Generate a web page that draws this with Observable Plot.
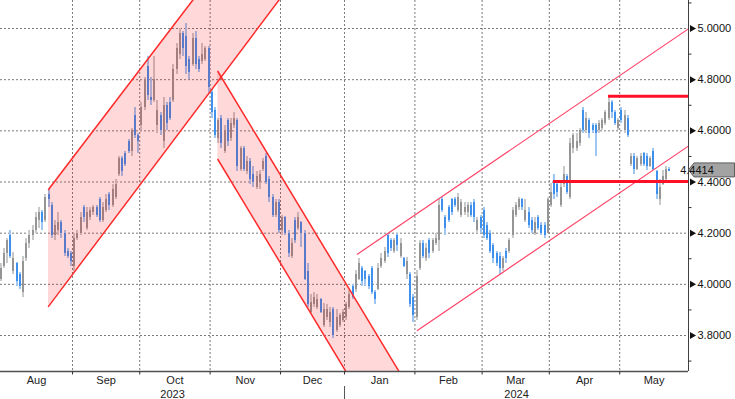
<!DOCTYPE html>
<html><head><meta charset="utf-8">
<script src="https://cdn.jsdelivr.net/npm/d3@7"></script>
<script src="https://cdn.jsdelivr.net/npm/@observablehq/plot@0.6"></script>
<style>html,body{margin:0;padding:0;background:#fff;overflow:hidden}</style>
</head><body><div id="chart"></div>
<script>
// Daily candles [open, high, low, close], one array per month (trading days)
const aug = [[4.02,4.08,4.01,4.06],[4.07,4.14,4.06,4.12],[4.12,4.18,4.08,4.17],[4.19,4.21,4.10,4.11],[4.05,4.125,4.04,4.10],[4.08,4.085,3.99,4.01],[4.04,4.045,3.98,3.99],[3.97,4.11,3.95,4.09],[4.10,4.18,4.09,4.16],[4.16,4.21,4.14,4.19],[4.19,4.23,4.17,4.21],[4.21,4.28,4.20,4.26],[4.25,4.30,4.22,4.28],[4.28,4.29,4.21,4.24],[4.25,4.35,4.24,4.34],[4.35,4.37,4.30,4.33],[4.31,4.32,4.18,4.19],[4.19,4.25,4.17,4.23],[4.21,4.28,4.19,4.24],[4.24,4.25,4.18,4.20],[4.20,4.21,4.11,4.12],[4.13,4.14,4.10,4.11],[4.12,4.13,4.07,4.09]];
const sep = [[4.07,4.20,4.05,4.18],[4.18,4.21,4.17,4.20],[4.20,4.28,4.19,4.26],[4.30,4.31,4.24,4.26],[4.22,4.30,4.21,4.28],[4.26,4.30,4.25,4.29],[4.28,4.31,4.27,4.30],[4.30,4.31,4.26,4.27],[4.33,4.34,4.24,4.25],[4.25,4.32,4.24,4.30],[4.29,4.35,4.28,4.33],[4.35,4.36,4.29,4.31],[4.31,4.39,4.30,4.37],[4.34,4.41,4.33,4.39],[4.43,4.50,4.42,4.49],[4.49,4.50,4.42,4.44],[4.51,4.52,4.46,4.47],[4.56,4.565,4.51,4.52],[4.52,4.61,4.50,4.60],[4.66,4.69,4.57,4.58],[4.58,4.59,4.51,4.56]];
const oct = [[4.62,4.71,4.60,4.69],[4.69,4.81,4.68,4.80],[4.85,4.89,4.72,4.74],[4.73,4.81,4.70,4.72],[4.72,4.89,4.71,4.80],[4.62,4.72,4.59,4.68],[4.66,4.67,4.58,4.60],[4.56,4.73,4.53,4.70],[4.70,4.71,4.60,4.63],[4.71,4.73,4.64,4.65],[4.72,4.86,4.71,4.84],[4.84,4.94,4.82,4.92],[4.90,5.00,4.88,4.98],[4.98,4.99,4.89,4.92],[4.97,5.02,4.82,4.85],[4.88,4.89,4.80,4.83],[4.86,4.98,4.85,4.96],[4.96,4.99,4.84,4.86],[4.88,4.89,4.83,4.84],[4.87,4.94,4.86,4.90],[4.88,4.93,4.87,4.92],[4.92,4.93,4.745,4.77]];
const nov = [[4.75,4.76,4.65,4.67],[4.68,4.69,4.57,4.58],[4.57,4.65,4.55,4.64],[4.65,4.66,4.53,4.55],[4.52,4.62,4.51,4.60],[4.64,4.65,4.54,4.56],[4.57,4.65,4.56,4.63],[4.62,4.67,4.61,4.65],[4.64,4.65,4.44,4.46],[4.45,4.54,4.44,4.53],[4.53,4.54,4.44,4.45],[4.44,4.50,4.43,4.48],[4.48,4.49,4.39,4.41],[4.43,4.46,4.38,4.40],[4.38,4.44,4.37,4.42],[4.40,4.445,4.37,4.43],[4.45,4.49,4.44,4.48],[4.50,4.51,4.39,4.40],[4.41,4.42,4.32,4.34],[4.34,4.35,4.26,4.27],[4.27,4.33,4.26,4.32],[4.32,4.33,4.20,4.21]];
const dec = [[4.21,4.27,4.19,4.26],[4.26,4.265,4.19,4.20],[4.20,4.21,4.105,4.12],[4.11,4.18,4.10,4.16],[4.25,4.26,4.16,4.17],[4.22,4.28,4.21,4.26],[4.24,4.245,4.145,4.20],[4.20,4.21,4.015,4.02],[4.05,4.08,3.91,3.92],[3.89,3.96,3.885,3.93],[3.92,3.97,3.91,3.95],[3.91,3.96,3.90,3.94],[3.94,3.945,3.885,3.89],[3.84,3.925,3.83,3.90],[3.87,3.92,3.86,3.90],[3.85,3.91,3.83,3.89],[3.90,3.91,3.79,3.80],[3.82,3.90,3.81,3.87],[3.84,3.885,3.83,3.88],[3.86,3.90,3.85,3.89]];
const jan = [[3.87,3.93,3.86,3.92],[3.91,3.975,3.90,3.96],[3.99,4.00,3.94,3.95],[3.98,4.055,3.97,4.04],[4.02,4.10,4.015,4.08],[4.06,4.07,3.99,4.01],[4.05,4.055,3.99,4.02],[4.03,4.04,3.98,3.99],[4.06,4.07,3.96,3.97],[3.97,3.975,3.92,3.94],[3.98,4.08,3.975,4.06],[4.07,4.12,4.06,4.10],[4.09,4.145,4.08,4.13],[4.19,4.20,4.105,4.12],[4.17,4.18,4.13,4.14],[4.13,4.18,4.12,4.17],[4.19,4.20,4.13,4.15],[4.11,4.18,4.10,4.16],[4.10,4.105,4.065,4.07],[4.04,4.105,4.02,4.09],[4.04,4.045,3.91,3.92],[3.95,3.96,3.85,3.88]];
const feb = [[3.87,4.055,3.86,4.03],[4.06,4.17,4.055,4.16],[4.16,4.17,4.10,4.11],[4.10,4.16,4.09,4.14],[4.17,4.18,4.10,4.12],[4.13,4.18,4.12,4.17],[4.16,4.20,4.15,4.18],[4.17,4.33,4.13,4.31],[4.33,4.34,4.28,4.29],[4.26,4.27,4.19,4.22],[4.30,4.31,4.24,4.25],[4.33,4.335,4.27,4.28],[4.33,4.34,4.30,4.31],[4.29,4.355,4.28,4.34],[4.27,4.33,4.26,4.32],[4.28,4.32,4.27,4.30],[4.28,4.32,4.26,4.31],[4.31,4.32,4.26,4.27],[4.32,4.33,4.24,4.26],[4.21,4.26,4.20,4.25],[4.26,4.27,4.20,4.22]];
const mar = [[4.29,4.30,4.18,4.19],[4.23,4.24,4.17,4.18],[4.20,4.21,4.12,4.13],[4.15,4.16,4.08,4.10],[4.12,4.13,4.07,4.08],[4.11,4.125,4.04,4.06],[4.06,4.11,4.05,4.10],[4.13,4.14,4.08,4.10],[4.13,4.18,4.12,4.17],[4.19,4.30,4.18,4.29],[4.27,4.32,4.26,4.31],[4.30,4.34,4.29,4.33],[4.33,4.335,4.29,4.30],[4.25,4.33,4.24,4.29],[4.28,4.30,4.22,4.23],[4.25,4.26,4.20,4.21],[4.20,4.26,4.19,4.24],[4.26,4.27,4.21,4.22],[4.23,4.24,4.19,4.20],[4.23,4.24,4.18,4.19],[4.20,4.34,4.20,4.33]];
const apr = [[4.31,4.395,4.30,4.36],[4.40,4.43,4.33,4.35],[4.39,4.405,4.34,4.36],[4.31,4.395,4.30,4.38],[4.39,4.46,4.38,4.43],[4.42,4.43,4.35,4.36],[4.34,4.57,4.33,4.55],[4.53,4.59,4.51,4.58],[4.53,4.59,4.52,4.56],[4.55,4.61,4.54,4.60],[4.68,4.69,4.59,4.60],[4.60,4.67,4.59,4.65],[4.64,4.65,4.57,4.59],[4.62,4.63,4.59,4.60],[4.62,4.63,4.50,4.59],[4.60,4.64,4.59,4.63],[4.61,4.65,4.60,4.64],[4.63,4.68,4.62,4.67],[4.65,4.735,4.64,4.71],[4.71,4.72,4.65,4.67],[4.67,4.68,4.62,4.63],[4.61,4.65,4.60,4.64]];
const may = [[4.68,4.69,4.63,4.64],[4.60,4.68,4.59,4.66],[4.65,4.66,4.575,4.58],[4.47,4.51,4.46,4.50],[4.50,4.51,4.43,4.45],[4.45,4.50,4.445,4.49],[4.47,4.51,4.46,4.50],[4.51,4.515,4.46,4.47],[4.50,4.51,4.445,4.46],[4.46,4.50,4.455,4.49],[4.52,4.53,4.445,4.45],[4.44,4.445,4.33,4.35],[4.33,4.41,4.31,4.38],[4.39,4.445,4.385,4.42],[4.41,4.46,4.405,4.45],[4.45,4.455,4.44,4.4414]];

const monthNames = ["Aug","Sep","Oct","Nov","Dec","Jan","Feb","Mar","Apr","May"];
const monthData = [aug, sep, oct, nov, dec, jan, feb, mar, apr, may];
const years = ["2023","2024"];
const yearFirstMonth = [0, 5];

// Y axis ticks
const majorTicks = [3.8, 4.0, 4.2, 4.4, 4.6, 4.8, 5.0];
const minorTicks = [3.7, 3.9, 4.1, 4.3, 4.5, 4.7, 4.9, 5.1];

// Trend channels: [trading-day index, yield]
const ch1Upper = [{i: 15.0, v: 4.371}, {i: 110, v: 5.930}];
const ch1Lower = [{i: 15.0, v: 3.914}, {i: 110, v: 5.493}];
const ch2Upper = [{i: 67.93, v: 4.832}, {i: 140, v: 3.339}];
const ch2Lower = [{i: 67.93, v: 4.488}, {i: 140, v: 2.995}];
const ch3Upper = [{i: 111.5, v: 4.118}, {i: 215, v: 4.999}];
const ch3Lower = [{i: 130.26, v: 3.8195}, {i: 215, v: 4.5407}];
// Horizontal levels
const levels = [{v: 4.735, from: 190}, {v: 4.402, from: 172.8}];

// ---- build ----
const bars = [];
const monthStart = [];
monthData.forEach(arr => { monthStart.push(bars.length); arr.forEach(([o,h,l,c]) => bars.push({i: bars.length, o, h, l, c})); });
const xMin = -0.01, xMax = 215;
const yMin = 3.6593, yMax = 5.1095;
const bounds = monthStart.slice(1).map(s => s - 0.5);
const edges = [xMin, ...bounds, xMax];
const monthLabels = monthNames.map((m, k) => ({x: (edges[k] + edges[k+1]) / 2, m}));
const yearEdges = [xMin, ...yearFirstMonth.slice(1).map(k => edges[k]), xMax];
const yearLabels = years.map((y, k) => ({x: (yearEdges[k] + yearEdges[k+1]) / 2, y}));
const yearSep = yearFirstMonth.slice(1).map(k => edges[k]);
const band = (u, l) => u.map((d, k) => ({i: d.i, hi: d.v, lo: l[k].v}));
const last = bars[bars.length - 1];

const up = d => d.c >= d.o;
const pxY = 255.8; // px per unit, used only for small tick offsets

const chart = Plot.plot({
  width: 735, height: 399,
  marginLeft: 0, marginRight: 47, marginTop: 0, marginBottom: 28,
  style: {fontFamily: "'Liberation Sans', Arial, sans-serif", fontSize: "11px", background: "#fff", overflow: "visible"},
  x: {type: "linear", domain: [xMin, xMax], axis: null},
  y: {type: "linear", domain: [yMin, yMax], axis: null},
  marks: [
    Plot.ruleY(majorTicks, {stroke: "#7a7a7a", strokeDasharray: "2,2", strokeWidth: 1}),
    Plot.ruleX(bounds, {stroke: "#7a7a7a", strokeDasharray: "2,2", strokeWidth: 1}),
    Plot.ruleX(bars, {x: "i", y1: "l", y2: "h", stroke: d => up(d) ? "#c9c9c9" : "#9fc6f3", strokeWidth: 2, shapeRendering: "crispEdges"}),
    Plot.ruleX(bars, {x: "i", y1: "o", y2: "c", stroke: d => up(d) ? "#959595" : "#3d90ec", strokeWidth: 2, shapeRendering: "crispEdges"}),
    Plot.areaY(band(ch1Upper, ch1Lower), {x: "i", y1: "lo", y2: "hi", fill: "#ff0000", fillOpacity: 0.15, clip: true}),
    Plot.areaY(band(ch2Upper, ch2Lower), {x: "i", y1: "lo", y2: "hi", fill: "#ff0000", fillOpacity: 0.15, clip: true}),
    ...[ch1Upper, ch1Lower, ch2Upper, ch2Lower].map(d => Plot.line(d, {x: "i", y: "v", stroke: "#ff2a2a", strokeWidth: 1.5, clip: true})),
    ...[ch3Upper, ch3Lower].map(d => Plot.line(d, {x: "i", y: "v", stroke: "#ff4468", strokeWidth: 1.2, clip: true})),
    Plot.ruleY(levels, {y: "v", x1: "from", x2: xMax, stroke: "#ff1028", strokeWidth: 3}),
    // axes
    Plot.ruleY([yMin], {stroke: "#505050", strokeWidth: 1.5}),
    Plot.ruleX([xMax], {stroke: "#404040", strokeWidth: 1}),
    Plot.ruleX(bounds, {y1: yMin, y2: yMin - 3.5 / pxY, stroke: "#333"}),
    Plot.ruleX(yearSep, {y1: yMin - 15 / pxY, y2: yMin - 28 / pxY, stroke: "#555"}),
    Plot.ruleY(minorTicks, {x1: xMax, x2: xMax + 1.1, stroke: "#333"}),
    Plot.dot(majorTicks, {x: xMax, y: d => d, symbol: "triangle", rotate: 90, r: 2.6, fill: "#111", stroke: "none", dx: 3.5}),
    Plot.text(majorTicks, {x: xMax, y: d => d, dx: 9, textAnchor: "start", text: d => d.toFixed(4), fill: "#111"}),
    Plot.text(monthLabels, {x: "x", y: yMin, dy: 9, text: "m", fill: "#222"}),
    Plot.text(yearLabels, {x: "x", y: yMin, dy: 23, text: "y", fill: "#222"})
  ]
});
document.getElementById("chart").appendChild(chart);

// current-value tag
const sx = chart.scale("x"), sy = chart.scale("y");
const tx = sx.apply(xMax), ty = sy.apply(last.c) - 1;
const g = d3.select(chart).append("g");
g.append("path")
  .attr("d", `M${tx + 0.5},${ty} L${tx + 6},${ty - 7} L734.5,${ty - 7} L734.5,${ty + 7} L${tx + 6},${ty + 7} Z`)
  .attr("fill", "#a3a3a3").attr("stroke", "#5e5e5e").attr("stroke-width", 1);
g.append("text").attr("x", tx + 9).attr("y", ty).attr("dy", "0.35em")
  .attr("fill", "#111").attr("font-size", 11).text(last.c.toFixed(4));
</script>
</body></html>
